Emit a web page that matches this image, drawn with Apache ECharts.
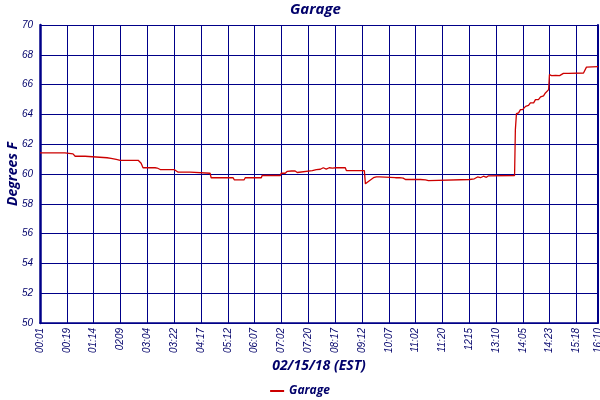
<!DOCTYPE html>
<html>
<head>
<meta charset="utf-8">
<script src="https://cdn.jsdelivr.net/npm/echarts@6/dist/echarts.min.js"></script>
<style>html,body{margin:0;padding:0;background:#fff}#c{width:600px;height:400px}</style>
</head>
<body>
<div id="c"></div>
<script>
// Tick labels (category stops along the x axis); last stop is the end of the record
const tickLabels = ['00:01','00:19','01:14','0209','03:04','03:22','04:17','05:12','06:07','07:02','07:20','08:17','09:12','10:07','11:02','11:20','1215','13:10','14:05','14:23','15:18','16:10'];
const tickPos = [0,1,2,3,4,5,6,7,8,9,10,11,12,13,14,15,16,17,18,19,20,20.8];

// Position of each reading, in tick-stop units
const xPos = [0,0.93,0.97,1.23,1.27,1.31,1.68,1.72,2.50,2.57,2.65,2.72,2.84,2.91,2.99,3.66,3.69,3.77,3.81,3.84,
  4.29,4.33,4.37,4.40,4.48,5.00,5.07,5.15,5.60,5.63,6.34,6.38,7.20,7.24,7.61,7.65,8.25,8.28,8.96,8.99,
  9.14,9.22,9.29,9.37,9.44,9.51,9.59,9.66,10.15,10.22,10.30,10.37,10.45,10.56,10.67,10.78,10.90,10.97,11.04,11.38,
  11.42,12.09,12.13,12.24,12.31,12.43,12.54,12.65,12.69,13.25,13.32,13.40,13.47,13.54,13.62,14.18,14.25,14.37,14.48,14.51,
  16.01,16.08,16.19,16.31,16.42,16.53,16.64,16.72,16.79,17.69,17.72,17.76,17.84,17.91,17.99,18.10,18.21,18.28,18.40,18.47,
  18.58,18.66,18.77,18.84,18.96,18.99,19.07,19.14,19.22,19.29,19.37,19.44,19.51,19.70,19.74,20.26,20.37,20.80];
// Garage temperature, degrees F
const garageTemp = [61.42,61.42,61.35,61.35,61.24,61.19,61.19,61.09,61.09,60.97,61.05,60.92,60.98,60.88,60.92,60.92,60.80,60.72,60.78,60.42,
  60.42,60.35,60.40,60.33,60.30,60.30,60.20,60.12,60.12,60.08,60.05,59.75,59.75,59.61,59.61,59.75,59.75,59.90,59.90,60.05,
  60.05,60.18,60.08,60.20,60.10,60.20,60.10,60.23,60.23,60.35,60.30,60.42,60.32,60.42,60.33,60.42,60.40,60.33,60.42,60.42,
  60.23,60.23,59.34,59.50,59.63,59.75,59.81,59.81,59.75,59.75,59.68,59.75,59.64,59.72,59.63,59.63,59.55,59.60,59.55,59.63,
  59.63,59.72,59.68,59.80,59.75,59.85,59.78,59.88,59.90,59.90,62.98,64.05,64.10,64.32,64.32,64.54,64.60,64.77,64.77,64.99,
  64.99,65.17,65.25,65.44,65.66,66.67,66.60,66.72,66.62,66.72,66.60,66.67,66.75,66.75,66.78,66.78,67.17,67.20];

const navy = '#000088';
const textNavy = '#00006a';
const titleFont = '"Open Sans", "DejaVu Sans", sans-serif';
const tickFont = '"Liberation Sans", Arial, sans-serif';

const chart = echarts.init(document.getElementById('c'), null, {renderer: 'canvas'});
chart.setOption({
  animation: false,
  backgroundColor: '#fff',
  title: {
    text: 'Garage', left: 285, top: -3,
    textStyle: {fontFamily: titleFont, fontStyle: 'italic', fontWeight: 'bold', fontSize: 15, color: textNavy}
  },
  legend: {
    bottom: -2, left: 'center',
    icon: 'rect', itemWidth: 14, itemHeight: 2, itemGap: 10,
    textStyle: {fontFamily: titleFont, fontStyle: 'italic', fontWeight: 'bold', fontSize: 12, color: textNavy},
    data: ['Garage']
  },
  grid: {left: 40, right: 2, top: 25, bottom: 77, containLabel: false, outerBoundsMode: 'none'},
  xAxis: {
    type: 'value', min: 0, max: 20.8, interval: 1,
    name: '02/15/18 (EST)', nameLocation: 'middle', nameGap: 36, nameMoveOverlap: false,
    nameTextStyle: {fontFamily: titleFont, fontStyle: 'italic', fontWeight: 'bold', fontSize: 14, color: textNavy},
    axisLine: {show: true, lineStyle: {color: navy, width: 1.5}},
    axisTick: {show: false},
    splitLine: {show: true, lineStyle: {color: navy, width: 1}},
    axisLabel: {
      rotate: 90, margin: 5, showMaxLabel: true, showMinLabel: true,
      fontFamily: tickFont, fontStyle: 'italic', fontSize: 10, color: textNavy,
      formatter: function (v) {
        let best = 0, d = 1e9;
        for (let i = 0; i < tickPos.length; i++) {
          const dd = Math.abs(tickPos[i] - v);
          if (dd < d) { d = dd; best = i; }
        }
        return d < 0.05 ? tickLabels[best] : '';
      }
    }
  },
  yAxis: [{
    type: 'value', min: 50, max: 70, interval: 2,
    name: 'Degrees F', nameLocation: 'middle', nameGap: 20, nameRotate: 90, nameMoveOverlap: false,
    nameTextStyle: {fontFamily: titleFont, fontStyle: 'italic', fontWeight: 'bold', fontSize: 14, color: textNavy},
    axisLine: {show: true, lineStyle: {color: navy, width: 2.5}},
    axisTick: {show: false},
    splitLine: {show: true, lineStyle: {color: navy, width: 1}},
    axisLabel: {margin: 7, fontFamily: tickFont, fontStyle: 'italic', fontSize: 10, color: textNavy}
  }, {
    type: 'value', min: 50, max: 70, interval: 2, position: 'right',
    axisLine: {show: true, lineStyle: {color: navy, width: 2}},
    axisTick: {show: false}, axisLabel: {show: false}, splitLine: {show: false}
  }],
  series: [{
    name: 'Garage', type: 'line', symbol: 'none', yAxisIndex: 0,
    color: '#cc0000',
    lineStyle: {color: '#cc0000', width: 1.3},
    data: xPos.map((x, i) => [x, garageTemp[i]])
  }]
});
</script>
</body>
</html>
